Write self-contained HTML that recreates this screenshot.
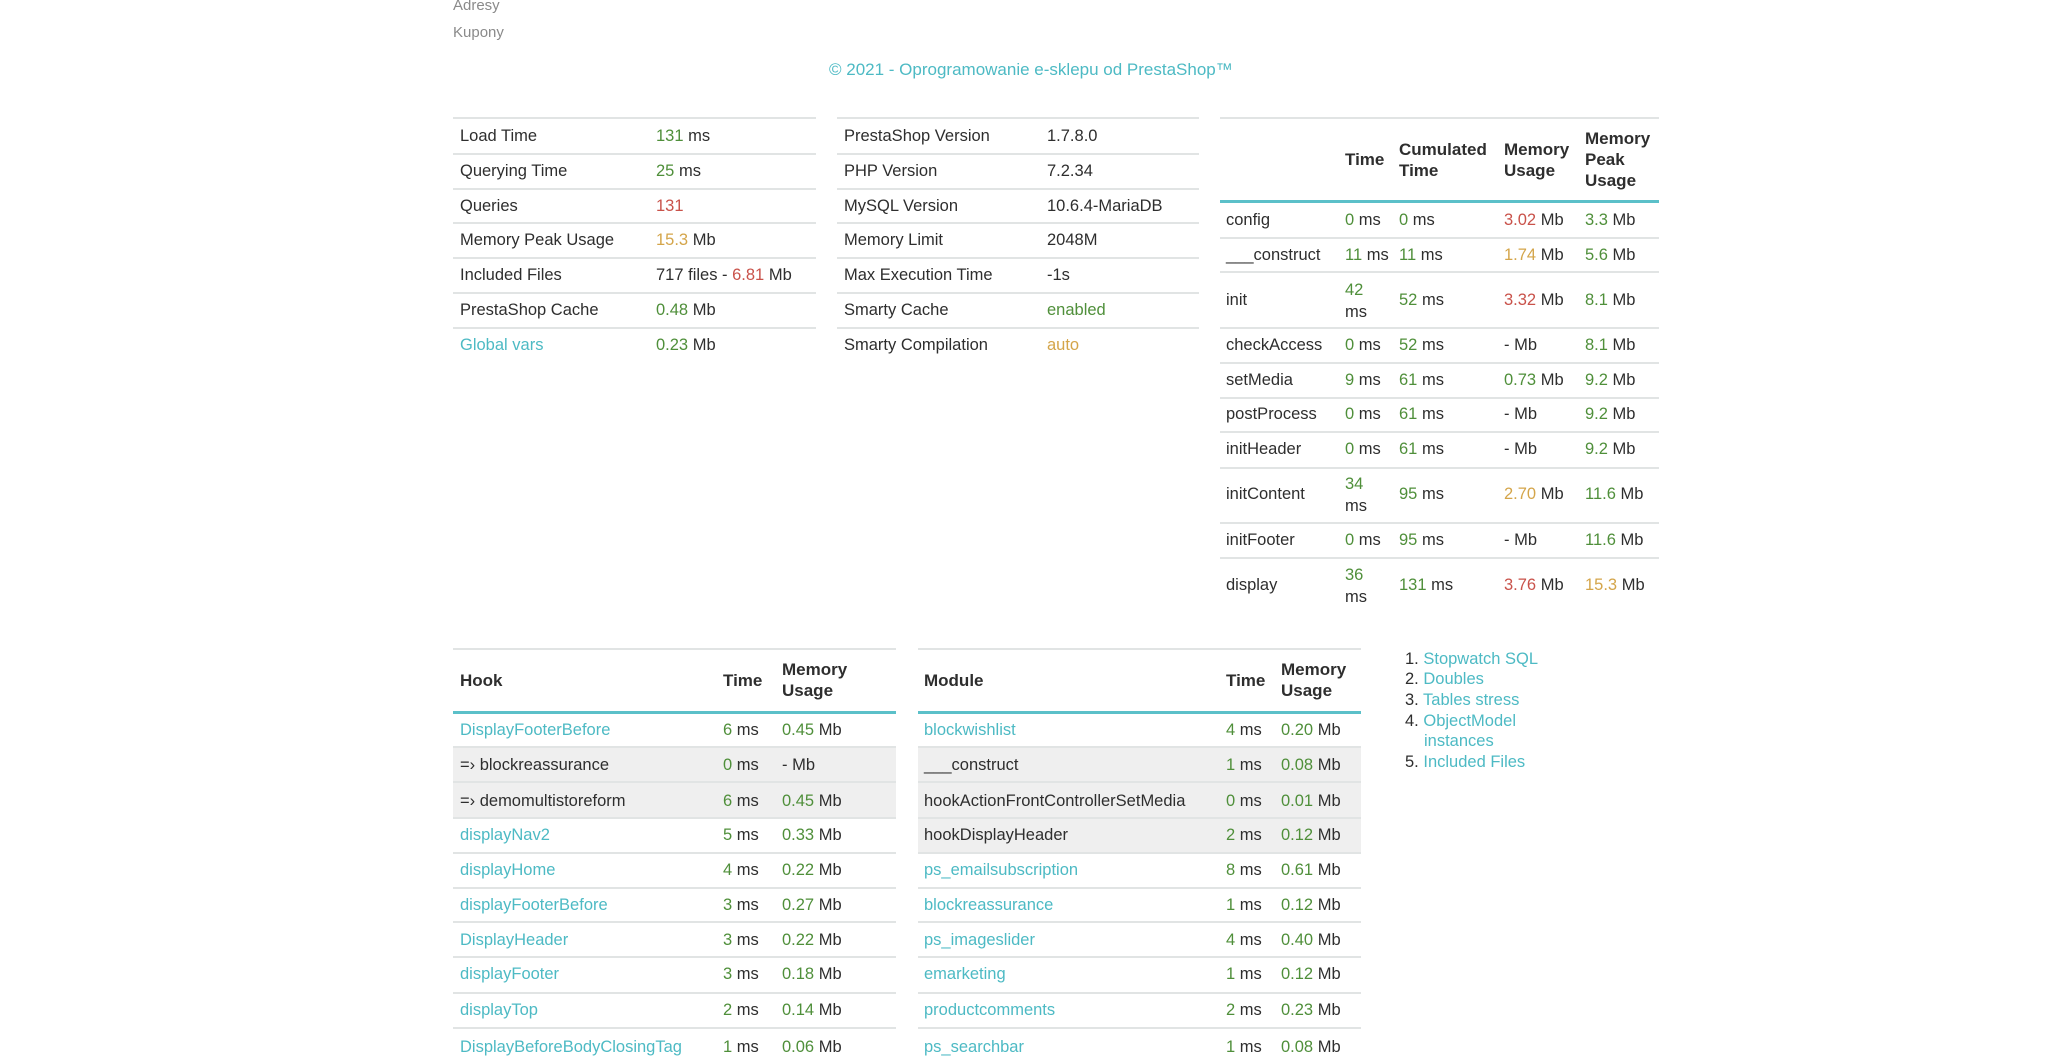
<!DOCTYPE html>
<html><head><meta charset="utf-8"><style>
body{margin:0;width:2048px;height:1045px;background:#fff;overflow:hidden;position:relative;font-family:"Liberation Sans",sans-serif;color:#2e2e2e;font-size:16.5px}
.t{position:absolute;line-height:22px;white-space:nowrap}
.h{position:absolute;height:2px;background:#e1e4e4}
.b{position:absolute;height:3px;background:#5bc0c9}
.g{color:#4f8f3a}.r{color:#c9524a}.o{color:#d4a54a}.l{color:#4dbac4}
.bd{font-weight:bold;font-size:17px;line-height:21px}
.gr{position:absolute;background:#efefef}
</style></head><body>
<div class="t" style="left:453px;top:-5px;color:#8a8a8a;font-size:15px">Adresy</div>
<div class="t" style="left:453px;top:22px;color:#8a8a8a;font-size:15px">Kupony</div>
<div class="t l" style="left:829px;top:59px;font-size:17px">© 2021 - Oprogramowanie e-sklepu od PrestaShop™</div>

<div class="h" style="left:453px;width:363px;top:117px"></div>
<div class="h" style="left:453px;width:363px;top:153px"></div>
<div class="h" style="left:453px;width:363px;top:188px"></div>
<div class="h" style="left:453px;width:363px;top:222px"></div>
<div class="h" style="left:453px;width:363px;top:257px"></div>
<div class="h" style="left:453px;width:363px;top:292px"></div>
<div class="h" style="left:453px;width:363px;top:327px"></div>
<div class="t" style="left:460px;top:125px">Load Time</div><div class="t" style="left:656px;top:125px"><span class="g">131</span> ms</div>
<div class="t" style="left:460px;top:160px">Querying Time</div><div class="t" style="left:656px;top:160px"><span class="g">25</span> ms</div>
<div class="t" style="left:460px;top:195px">Queries</div><div class="t" style="left:656px;top:195px"><span class="r">131</span></div>
<div class="t" style="left:460px;top:229px">Memory Peak Usage</div><div class="t" style="left:656px;top:229px"><span class="o">15.3</span> Mb</div>
<div class="t" style="left:460px;top:264px">Included Files</div><div class="t" style="left:656px;top:264px">717 files - <span class="r">6.81</span> Mb</div>
<div class="t" style="left:460px;top:299px">PrestaShop Cache</div><div class="t" style="left:656px;top:299px"><span class="g">0.48</span> Mb</div>
<div class="t l" style="left:460px;top:334px">Global vars</div><div class="t" style="left:656px;top:334px"><span class="g">0.23</span> Mb</div>

<div class="h" style="left:837px;width:362px;top:117px"></div>
<div class="h" style="left:837px;width:362px;top:153px"></div>
<div class="h" style="left:837px;width:362px;top:188px"></div>
<div class="h" style="left:837px;width:362px;top:222px"></div>
<div class="h" style="left:837px;width:362px;top:257px"></div>
<div class="h" style="left:837px;width:362px;top:292px"></div>
<div class="h" style="left:837px;width:362px;top:327px"></div>
<div class="t" style="left:844px;top:125px">PrestaShop Version</div><div class="t" style="left:1047px;top:125px">1.7.8.0</div>
<div class="t" style="left:844px;top:160px">PHP Version</div><div class="t" style="left:1047px;top:160px">7.2.34</div>
<div class="t" style="left:844px;top:195px">MySQL Version</div><div class="t" style="left:1047px;top:195px">10.6.4-MariaDB</div>
<div class="t" style="left:844px;top:229px">Memory Limit</div><div class="t" style="left:1047px;top:229px">2048M</div>
<div class="t" style="left:844px;top:264px">Max Execution Time</div><div class="t" style="left:1047px;top:264px">-1s</div>
<div class="t" style="left:844px;top:299px">Smarty Cache</div><div class="t g" style="left:1047px;top:299px">enabled</div>
<div class="t" style="left:844px;top:334px">Smarty Compilation</div><div class="t o" style="left:1047px;top:334px">auto</div>

<div class="h" style="left:1220px;width:439px;top:117px"></div>
<div class="t bd" style="left:1345px;top:149px">Time</div>
<div class="t bd" style="left:1399px;top:139px">Cumulated<br>Time</div>
<div class="t bd" style="left:1504px;top:139px">Memory<br>Usage</div>
<div class="t bd" style="left:1585px;top:128px">Memory<br>Peak<br>Usage</div>
<div class="b" style="left:1220px;width:439px;top:200px"></div>
<div class="h" style="left:1220px;width:439px;top:237px"></div>
<div class="h" style="left:1220px;width:439px;top:271px"></div>
<div class="h" style="left:1220px;width:439px;top:327px"></div>
<div class="h" style="left:1220px;width:439px;top:362px"></div>
<div class="h" style="left:1220px;width:439px;top:397px"></div>
<div class="h" style="left:1220px;width:439px;top:431px"></div>
<div class="h" style="left:1220px;width:439px;top:467px"></div>
<div class="h" style="left:1220px;width:439px;top:522px"></div>
<div class="h" style="left:1220px;width:439px;top:557px"></div>

<div class="t" style="left:1226px;top:209px">config</div><div class="t" style="left:1345px;top:209px"><span class="g">0</span> ms</div><div class="t" style="left:1399px;top:209px"><span class="g">0</span> ms</div><div class="t" style="left:1504px;top:209px"><span class="r">3.02</span> Mb</div><div class="t" style="left:1585px;top:209px"><span class="g">3.3</span> Mb</div>
<div class="t" style="left:1226px;top:244px">___construct</div><div class="t" style="left:1345px;top:244px"><span class="g">11</span> ms</div><div class="t" style="left:1399px;top:244px"><span class="g">11</span> ms</div><div class="t" style="left:1504px;top:244px"><span class="o">1.74</span> Mb</div><div class="t" style="left:1585px;top:244px"><span class="g">5.6</span> Mb</div>
<div class="t" style="left:1226px;top:289px">init</div><div class="t" style="left:1345px;top:279px"><span class="g">42</span><br>ms</div><div class="t" style="left:1399px;top:289px"><span class="g">52</span> ms</div><div class="t" style="left:1504px;top:289px"><span class="r">3.32</span> Mb</div><div class="t" style="left:1585px;top:289px"><span class="g">8.1</span> Mb</div>
<div class="t" style="left:1226px;top:334px">checkAccess</div><div class="t" style="left:1345px;top:334px"><span class="g">0</span> ms</div><div class="t" style="left:1399px;top:334px"><span class="g">52</span> ms</div><div class="t" style="left:1504px;top:334px">- Mb</div><div class="t" style="left:1585px;top:334px"><span class="g">8.1</span> Mb</div>
<div class="t" style="left:1226px;top:369px">setMedia</div><div class="t" style="left:1345px;top:369px"><span class="g">9</span> ms</div><div class="t" style="left:1399px;top:369px"><span class="g">61</span> ms</div><div class="t" style="left:1504px;top:369px"><span class="g">0.73</span> Mb</div><div class="t" style="left:1585px;top:369px"><span class="g">9.2</span> Mb</div>
<div class="t" style="left:1226px;top:403px">postProcess</div><div class="t" style="left:1345px;top:403px"><span class="g">0</span> ms</div><div class="t" style="left:1399px;top:403px"><span class="g">61</span> ms</div><div class="t" style="left:1504px;top:403px">- Mb</div><div class="t" style="left:1585px;top:403px"><span class="g">9.2</span> Mb</div>
<div class="t" style="left:1226px;top:438px">initHeader</div><div class="t" style="left:1345px;top:438px"><span class="g">0</span> ms</div><div class="t" style="left:1399px;top:438px"><span class="g">61</span> ms</div><div class="t" style="left:1504px;top:438px">- Mb</div><div class="t" style="left:1585px;top:438px"><span class="g">9.2</span> Mb</div>
<div class="t" style="left:1226px;top:483px">initContent</div><div class="t" style="left:1345px;top:473px"><span class="g">34</span><br>ms</div><div class="t" style="left:1399px;top:483px"><span class="g">95</span> ms</div><div class="t" style="left:1504px;top:483px"><span class="o">2.70</span> Mb</div><div class="t" style="left:1585px;top:483px"><span class="g">11.6</span> Mb</div>
<div class="t" style="left:1226px;top:529px">initFooter</div><div class="t" style="left:1345px;top:529px"><span class="g">0</span> ms</div><div class="t" style="left:1399px;top:529px"><span class="g">95</span> ms</div><div class="t" style="left:1504px;top:529px">- Mb</div><div class="t" style="left:1585px;top:529px"><span class="g">11.6</span> Mb</div>
<div class="t" style="left:1226px;top:574px">display</div><div class="t" style="left:1345px;top:564px"><span class="g">36</span><br>ms</div><div class="t" style="left:1399px;top:574px"><span class="g">131</span> ms</div><div class="t" style="left:1504px;top:574px"><span class="r">3.76</span> Mb</div><div class="t" style="left:1585px;top:574px"><span class="o">15.3</span> Mb</div>

<div class="gr" style="left:453px;width:443px;top:748px;height:69px"></div>
<div class="gr" style="left:918px;width:443px;top:748px;height:105px"></div>
<div class="h" style="left:453px;width:443px;top:648px"></div>
<div class="h" style="left:918px;width:443px;top:648px"></div>
<div class="t bd" style="left:460px;top:670px">Hook</div>
<div class="t bd" style="left:723px;top:670px">Time</div>
<div class="t bd" style="left:782px;top:659px">Memory<br>Usage</div>
<div class="t bd" style="left:924px;top:670px">Module</div>
<div class="t bd" style="left:1226px;top:670px">Time</div>
<div class="t bd" style="left:1281px;top:659px">Memory<br>Usage</div>
<div class="b" style="left:453px;width:443px;top:711px"></div>
<div class="b" style="left:918px;width:443px;top:711px"></div>

<div class="h" style="left:453px;width:443px;top:746px"></div><div class="h" style="left:918px;width:443px;top:746px"></div>
<div class="h" style="left:453px;width:443px;top:817px"></div><div class="h" style="left:918px;width:443px;top:781px"></div>
<div class="h" style="left:453px;width:443px;top:781px"></div><div class="h" style="left:918px;width:443px;top:817px"></div>
<div class="h" style="left:453px;width:443px;top:852px"></div><div class="h" style="left:918px;width:443px;top:852px"></div>
<div class="h" style="left:453px;width:443px;top:887px"></div><div class="h" style="left:918px;width:443px;top:887px"></div>
<div class="h" style="left:453px;width:443px;top:921px"></div><div class="h" style="left:918px;width:443px;top:921px"></div>
<div class="h" style="left:453px;width:443px;top:956px"></div><div class="h" style="left:918px;width:443px;top:956px"></div>
<div class="h" style="left:453px;width:443px;top:992px"></div><div class="h" style="left:918px;width:443px;top:992px"></div>
<div class="h" style="left:453px;width:443px;top:1027px"></div><div class="h" style="left:918px;width:443px;top:1027px"></div>

<div class="t l" style="left:460px;top:719px">DisplayFooterBefore</div><div class="t" style="left:723px;top:719px"><span class="g">6</span> ms</div><div class="t" style="left:782px;top:719px"><span class="g">0.45</span> Mb</div>
<div class="t" style="left:460px;top:754px">=› blockreassurance</div><div class="t" style="left:723px;top:754px"><span class="g">0</span> ms</div><div class="t" style="left:782px;top:754px">- Mb</div>
<div class="t" style="left:460px;top:790px">=› demomultistoreform</div><div class="t" style="left:723px;top:790px"><span class="g">6</span> ms</div><div class="t" style="left:782px;top:790px"><span class="g">0.45</span> Mb</div>
<div class="t l" style="left:460px;top:824px">displayNav2</div><div class="t" style="left:723px;top:824px"><span class="g">5</span> ms</div><div class="t" style="left:782px;top:824px"><span class="g">0.33</span> Mb</div>
<div class="t l" style="left:460px;top:859px">displayHome</div><div class="t" style="left:723px;top:859px"><span class="g">4</span> ms</div><div class="t" style="left:782px;top:859px"><span class="g">0.22</span> Mb</div>
<div class="t l" style="left:460px;top:894px">displayFooterBefore</div><div class="t" style="left:723px;top:894px"><span class="g">3</span> ms</div><div class="t" style="left:782px;top:894px"><span class="g">0.27</span> Mb</div>
<div class="t l" style="left:460px;top:929px">DisplayHeader</div><div class="t" style="left:723px;top:929px"><span class="g">3</span> ms</div><div class="t" style="left:782px;top:929px"><span class="g">0.22</span> Mb</div>
<div class="t l" style="left:460px;top:963px">displayFooter</div><div class="t" style="left:723px;top:963px"><span class="g">3</span> ms</div><div class="t" style="left:782px;top:963px"><span class="g">0.18</span> Mb</div>
<div class="t l" style="left:460px;top:999px">displayTop</div><div class="t" style="left:723px;top:999px"><span class="g">2</span> ms</div><div class="t" style="left:782px;top:999px"><span class="g">0.14</span> Mb</div>
<div class="t l" style="left:460px;top:1036px">DisplayBeforeBodyClosingTag</div><div class="t" style="left:723px;top:1036px"><span class="g">1</span> ms</div><div class="t" style="left:782px;top:1036px"><span class="g">0.06</span> Mb</div>

<div class="t l" style="left:924px;top:719px">blockwishlist</div><div class="t" style="left:1226px;top:719px"><span class="g">4</span> ms</div><div class="t" style="left:1281px;top:719px"><span class="g">0.20</span> Mb</div>
<div class="t" style="left:924px;top:754px">___construct</div><div class="t" style="left:1226px;top:754px"><span class="g">1</span> ms</div><div class="t" style="left:1281px;top:754px"><span class="g">0.08</span> Mb</div>
<div class="t" style="left:924px;top:790px">hookActionFrontControllerSetMedia</div><div class="t" style="left:1226px;top:790px"><span class="g">0</span> ms</div><div class="t" style="left:1281px;top:790px"><span class="g">0.01</span> Mb</div>
<div class="t" style="left:924px;top:824px">hookDisplayHeader</div><div class="t" style="left:1226px;top:824px"><span class="g">2</span> ms</div><div class="t" style="left:1281px;top:824px"><span class="g">0.12</span> Mb</div>
<div class="t l" style="left:924px;top:859px">ps_emailsubscription</div><div class="t" style="left:1226px;top:859px"><span class="g">8</span> ms</div><div class="t" style="left:1281px;top:859px"><span class="g">0.61</span> Mb</div>
<div class="t l" style="left:924px;top:894px">blockreassurance</div><div class="t" style="left:1226px;top:894px"><span class="g">1</span> ms</div><div class="t" style="left:1281px;top:894px"><span class="g">0.12</span> Mb</div>
<div class="t l" style="left:924px;top:929px">ps_imageslider</div><div class="t" style="left:1226px;top:929px"><span class="g">4</span> ms</div><div class="t" style="left:1281px;top:929px"><span class="g">0.40</span> Mb</div>
<div class="t l" style="left:924px;top:963px">emarketing</div><div class="t" style="left:1226px;top:963px"><span class="g">1</span> ms</div><div class="t" style="left:1281px;top:963px"><span class="g">0.12</span> Mb</div>
<div class="t l" style="left:924px;top:999px">productcomments</div><div class="t" style="left:1226px;top:999px"><span class="g">2</span> ms</div><div class="t" style="left:1281px;top:999px"><span class="g">0.23</span> Mb</div>
<div class="t l" style="left:924px;top:1036px">ps_searchbar</div><div class="t" style="left:1226px;top:1036px"><span class="g">1</span> ms</div><div class="t" style="left:1281px;top:1036px"><span class="g">0.08</span> Mb</div>

<div class="t" style="left:1405px;top:648px">1. <span class="l">Stopwatch SQL</span></div>
<div class="t" style="left:1405px;top:668px">2. <span class="l">Doubles</span></div>
<div class="t" style="left:1405px;top:689px">3. <span class="l">Tables stress</span></div>
<div class="t" style="left:1405px;top:710px">4. <span class="l">ObjectModel</span></div>
<div class="t l" style="left:1424px;top:730px">instances</div>
<div class="t" style="left:1405px;top:751px">5. <span class="l">Included Files</span></div>
</body></html>
